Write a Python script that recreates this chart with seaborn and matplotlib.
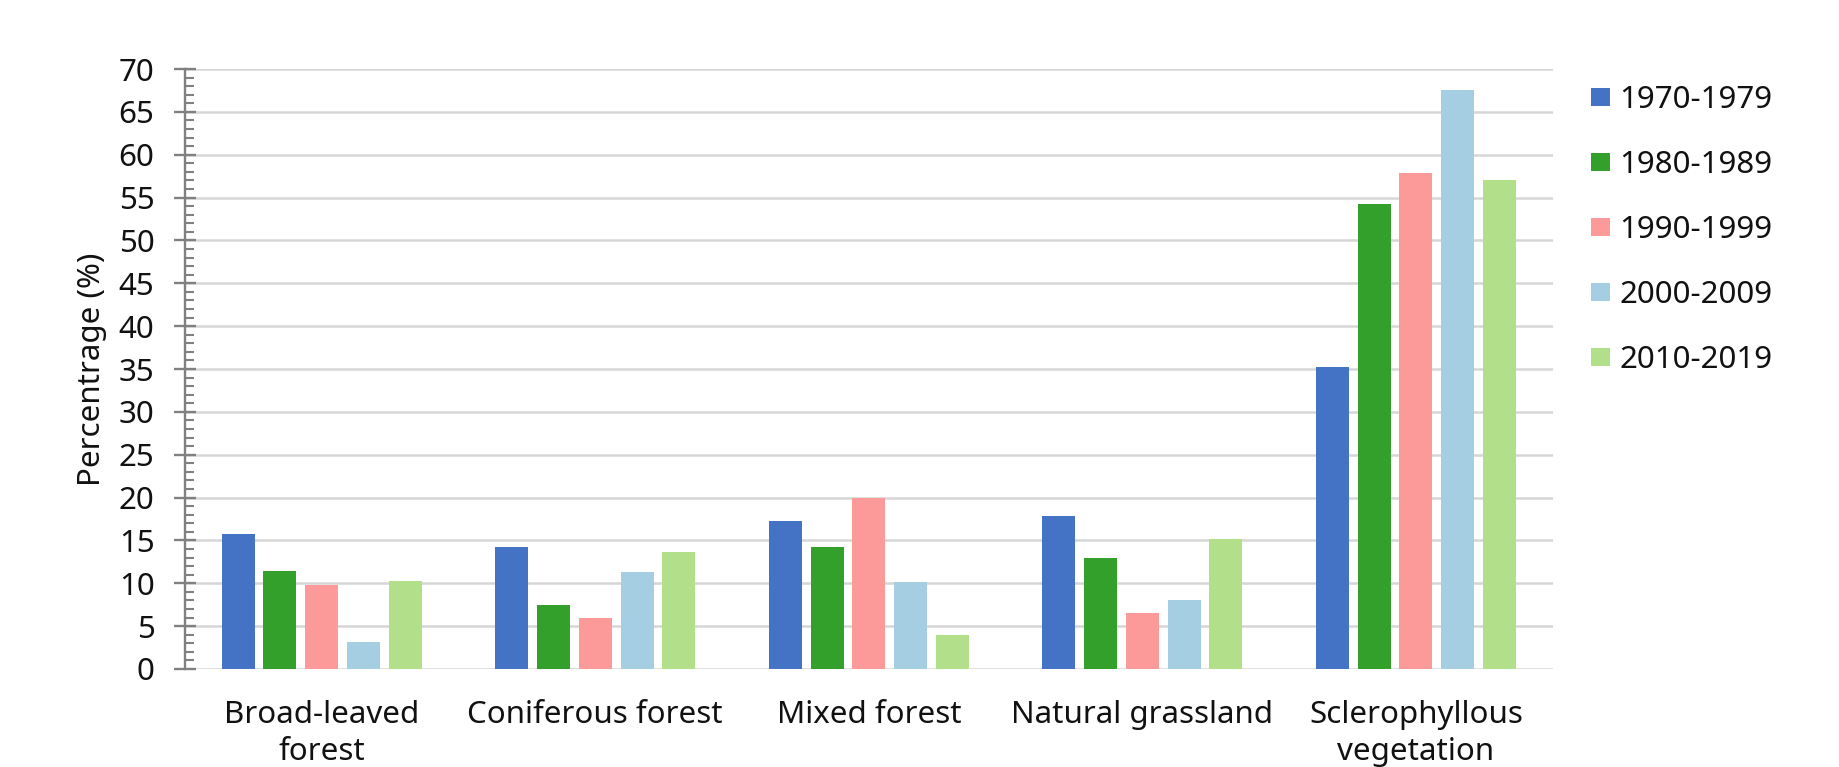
import matplotlib
matplotlib.use("Agg")
import matplotlib.pyplot as plt
from matplotlib.ticker import MultipleLocator
import seaborn as sns
import pandas as pd

categories = ["Broad-leaved\nforest", "Coniferous forest", "Mixed forest",
              "Natural grassland", "Sclerophyllous\nvegetation"]
periods = ["1970-1979", "1980-1989", "1990-1999", "2000-2009", "2010-2019"]
v1970 = [15.8, 14.2, 17.3, 17.8, 35.2]
v1980 = [11.4, 7.5, 14.2, 13.0, 54.2]
v1990 = [9.8, 6.0, 20.0, 6.5, 57.9]
v2000 = [3.1, 11.3, 10.1, 8.1, 67.6]
v2010 = [10.3, 13.7, 4.0, 15.2, 57.0]
colors = ["#4472C4", "#34A02C", "#FB9A99", "#A6CEE3", "#B2DF8A"]
y_ticks = list(range(0, 75, 5))

series = [v1970, v1980, v1990, v2000, v2010]
rows = []
for p, vals in zip(periods, series):
    for c, v in zip(categories, vals):
        rows.append({"category": c, "period": p, "value": v})
df = pd.DataFrame(rows)

sns.set_theme(style="white")
plt.rcParams['font.family'] = ['Noto Sans', 'DejaVu Sans']
FS = 22.5
TXT = "#111111"

fig = plt.figure(figsize=(18.39, 7.67), dpi=100)
ax = fig.add_axes([0.1006, 0.1278, 0.7437, 0.7822])

sns.barplot(data=df, x="category", y="value", hue="period", palette=colors,
            order=categories, hue_order=periods, width=0.764, gap=0.21,
            saturation=1, linewidth=0, ax=ax)

ax.set_ylim(0, 70)
ax.set_yticks(y_ticks)
ax.yaxis.set_minor_locator(MultipleLocator(1))
ax.set_xlabel("")
ax.set_ylabel("Percentrage (%)", fontsize=FS, labelpad=8, color=TXT)

for s in ["top", "right", "bottom"]:
    ax.spines[s].set_visible(False)
ax.spines["left"].set_color("#808080")
ax.spines["left"].set_linewidth(1.7)

ax.yaxis.grid(True, which="major", color="#d6d6d6", linewidth=1.8)
ax.set_axisbelow(True)

ax.tick_params(axis="y", which="major", direction="inout", length=16, width=1.7,
               color="#808080", labelsize=FS, pad=14, left=True,
               labelcolor=TXT)
ax.tick_params(axis="y", which="minor", direction="in", length=6.3, width=1.5,
               color="#808080", left=True)
ax.tick_params(axis="x", length=0, labelsize=FS, pad=22, labelcolor=TXT)
for t in ax.get_xticklabels():
    t.set_linespacing(1.33)

leg = ax.get_legend()
handles = leg.legend_handles
leg.remove()
fig.legend(handles, periods, loc="upper left", bbox_to_anchor=(0.8654, 0.889),
           frameon=False, fontsize=FS, handlelength=0.6, handleheight=0.55,
           handletextpad=0.3, labelspacing=1.12, borderpad=0, borderaxespad=0,
           labelcolor=TXT)

fig.savefig("out.png", dpi=100)
